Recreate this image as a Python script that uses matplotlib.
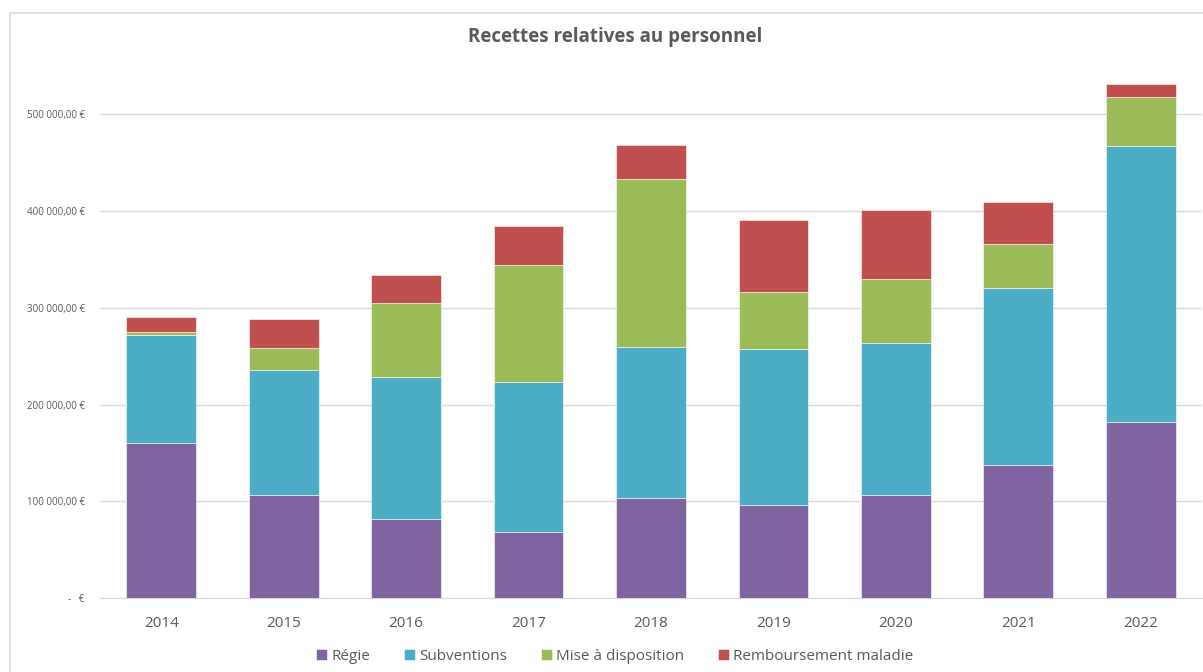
import matplotlib
matplotlib.use("Agg")
from matplotlib import pyplot as plt
from matplotlib.patches import Rectangle
from matplotlib.ticker import FuncFormatter
import numpy

years = ["2014", "2015", "2016", "2017", "2018", "2019", "2020", "2021", "2022"]
regie = [160000, 106000, 82000, 68000, 103000, 96000, 106000, 137000, 182000]
subventions = [112000, 130000, 146000, 155000, 156000, 161000, 158000, 184000, 285000]
mise_a_disposition = [3000, 22000, 77000, 121000, 174000, 59000, 66000, 45000, 51000]
remboursement_maladie = [15500, 30000, 29000, 41000, 35000, 75000, 71000, 43000, 13500]

series_names = ["Régie", "Subventions", "Mise à disposition", "Remboursement maladie"]
series_colors = ["#8064A2", "#4BACC6", "#9BBB59", "#C0504D"]

plt.rcParams['font.family'] = ['Open Sans', 'DejaVu Sans']
text_grey = "#595959"

fig = plt.figure(figsize=(12.03, 6.72), dpi=100)
# chart frame, like the spreadsheet chart area
fig.patches.append(Rectangle((10 / 1203, -0.1), 1.2, 1.1 - 13 / 672, transform=fig.transFigure,
                             fill=False, edgecolor="#d9d9d9", linewidth=1.2))

ax = fig.add_axes([100 / 1203, 1 - 598 / 672, 1102 / 1203, (598 - 66) / 672])

x = numpy.arange(len(years))
bottom = numpy.zeros(len(years))
for values, name, color in zip([regie, subventions, mise_a_disposition, remboursement_maladie],
                               series_names, series_colors):
  ax.bar(x, values, width=0.57, bottom=bottom, color=color, label=name,
         edgecolor="white", linewidth=0.4, zorder=3)
  bottom += numpy.array(values)

ax.set_xlim(-0.5, len(years) - 0.5)
ax.set_ylim(0, 550000)
ax.set_yticks(numpy.arange(0, 500001, 100000))

def euro(v, pos):
  if v == 0:
    return "-   €"
  return "{:,.2f} €".format(v).replace(",", " ").replace(".", ",")

ax.yaxis.set_major_formatter(FuncFormatter(euro))
ax.set_xticks(x)
ax.set_xticklabels(years)
ax.tick_params(axis="y", length=0, labelsize=7, labelcolor=text_grey, pad=11)
ax.tick_params(axis="x", length=0, labelsize=11, labelcolor=text_grey, pad=13)

ax.grid(axis="y", color="#d9d9d9", linewidth=1, zorder=0)
for side in ["top", "right", "left"]:
  ax.spines[side].set_visible(False)
ax.spines["bottom"].set_color("#d9d9d9")

fig.text(615 / 1203, 1 - 37 / 672, "Recettes relatives au personnel", ha="center", va="center",
         fontsize=13.5, fontweight="bold", color=text_grey)

leg = fig.legend(loc="center", bbox_to_anchor=(615 / 1203, 1 - 656 / 672), ncol=4, frameon=False,
                 fontsize=11, handlelength=0.7, handleheight=0.7, handletextpad=0.3, columnspacing=2.2)
for t in leg.get_texts():
  t.set_color(text_grey)

fig.savefig("out.png", dpi=100)
